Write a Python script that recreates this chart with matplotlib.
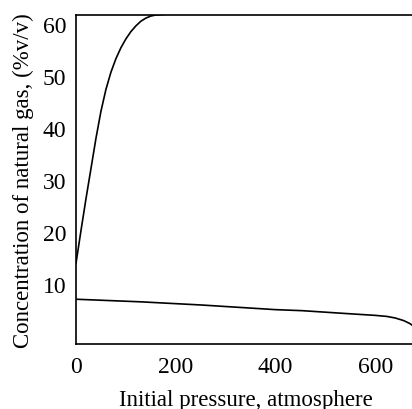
import matplotlib
matplotlib.use("Agg")
import matplotlib.pyplot as plt

# --- donnees ---
# courbe montante
p_haut = [0, 10, 20, 30, 40, 50, 60, 70, 80, 90, 100, 110, 120, 130, 140, 150, 160, 175]
c_haut = [14, 20.3, 26.4, 32.2, 38.0, 43.2, 47.4, 50.7, 53.3, 55.4, 57.1, 58.5, 59.6,
          60.5, 61.1, 61.5, 61.7, 61.8]
# courbe descendante
p_bas = [0, 130, 250, 400, 454, 550, 600, 623, 640, 657, 670, 685]
c_bas = [7.1, 6.6, 6.0, 5.1, 4.9, 4.3, 4.0, 3.8, 3.5, 3.0, 2.4, 1.3]

x_ticks = [0, 200, 400, 600]
y_ticks = [10, 20, 30, 40, 50, 60]

plt.rcParams['font.family'] = ['Liberation Serif', 'DejaVu Serif']

fig = plt.figure(figsize=(4.12, 4.10), dpi=100)
ax = fig.add_axes([76/412, 1 - 345/410, (412 - 76)/412 + 0.01, (345 - 16)/410])

ax.plot(p_haut, c_haut, color='black', lw=1.2)
ax.plot(p_bas, c_bas, color='black', lw=1.2)

ax.set_xlim(0, 682)
ax.set_ylim(-1.5, 61.7)
ax.set_xticks(x_ticks)
ax.set_yticks(y_ticks)
ax.tick_params(length=0, labelsize=17)
ax.tick_params(axis='x', pad=9)
ax.tick_params(axis='y', pad=7)
ax.spines['right'].set_visible(False)
for s in ['left', 'top', 'bottom']:
    ax.spines[s].set_linewidth(1.2)

ax.set_xlabel("Initial pressure, atmosphere", fontsize=16.5, labelpad=8)
ax.set_ylabel("Concentration of natural gas, (%v/v)", fontsize=16.5, labelpad=6)

fig.savefig("out.png", dpi=100)
